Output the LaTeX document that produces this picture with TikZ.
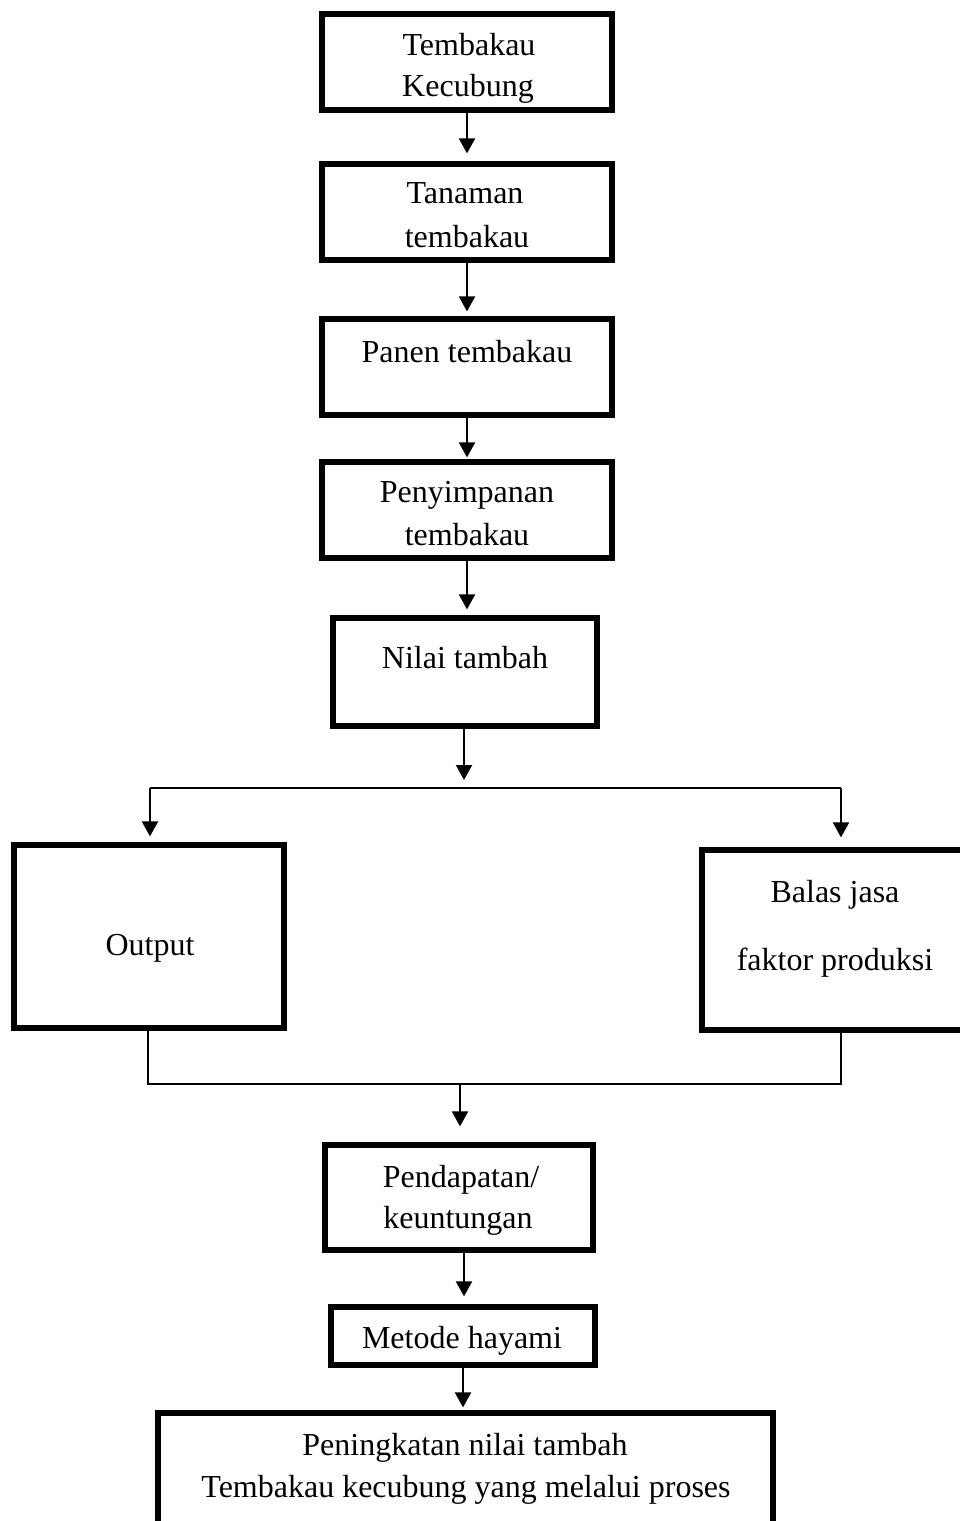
\documentclass[tikz,border=0pt]{standalone}
\usepackage{fontspec}
\setmainfont{Liberation Serif}
\usetikzlibrary{arrows.meta,calc}
\begin{document}
\begin{tikzpicture}[x=0.5pt,y=-0.5pt,
  box/.style={draw, line width=2.6pt, rectangle, inner sep=0pt},
  lbl/.style={anchor=base, inner sep=0pt, font=\fontsize{16pt}{19pt}\selectfont},
  conn/.style={line width=1pt},
  arr/.style={conn, -{Triangle[width=8pt,length=7.5pt]}}]
\useasboundingbox (0,0) rectangle (959,1521);
% boxes
\node[box, minimum width=145pt, minimum height=48pt] (b1) at (467,62) {};
\node[box, minimum width=145pt, minimum height=48pt] (b2) at (467,212) {};
\node[box, minimum width=145pt, minimum height=48pt] (b3) at (467,367) {};
\node[box, minimum width=145pt, minimum height=48pt] (b4) at (467,510) {};
\node[box, minimum width=132pt, minimum height=54pt] (b5) at (465,672) {};
\node[box, minimum width=135pt, minimum height=91.5pt] (out) at (149,936.5) {};
\node[box, minimum width=141.5pt, minimum height=90pt] (bal) at (843.5,940) {};
\node[box, minimum width=134pt, minimum height=52.5pt] (pend) at (459,1197.5) {};
\node[box, minimum width=132pt, minimum height=29pt] (met) at (463,1336) {};
\node[box, minimum width=307.5pt, minimum height=74pt] (fin) at (465.5,1487) {};
% texts
\node[lbl] (t1a) at (469,55) {Tembakau};
\node[lbl] (t1b) at (468,96) {Kecubung};
\node[lbl] (t2a) at (465,203) {Tanaman};
\node[lbl] (t2b) at (467,247) {tembakau};
\node[lbl] (t3) at (467,362) {Panen tembakau};
\node[lbl] (t4a) at (467,502) {Penyimpanan};
\node[lbl] (t4b) at (467,545) {tembakau};
\node[lbl] (t5) at (465,668) {Nilai tambah};
\node[lbl] (t6) at (150,955) {Output};
\node[lbl] (t7a) at (835,902) {Balas jasa};
\node[lbl] (t7b) at (835,970) {faktor produksi};
\node[lbl] (t8a) at (461,1187) {Pendapatan/};
\node[lbl] (t8b) at (458,1228) {keuntungan};
\node[lbl] (t9) at (462,1348) {Metode hayami};
\node[lbl] (t10a) at (465,1455) {Peningkatan nilai tambah};
\node[lbl] (t10b) at (466,1497) {Tembakau kecubung yang melalui proses};
% connectors
\draw[arr, shorten >=4pt] (b1.south) -- (b2.north);
\draw[arr, shorten >=2.5pt] (b2.south) -- (b3.north);
\draw[arr, shorten >=1pt] (b3.south) -- (b4.north);
\draw[arr, shorten >=3pt] (b4.south) -- (b4.south |- b5.north);
\coordinate (split) at (464,788);
\coordinate (sl) at (150,788);
\coordinate (sr) at (841,788);
\draw[arr, shorten >=4pt] (b5.south -| split) -- (split);
\draw[conn] (sl) -- (sr);
\draw[arr, shorten >=3pt] (sl) -- (sl |- out.north);
\draw[arr, shorten >=5pt] (sr) -- (sr |- bal.north);
\coordinate (ml) at (148,1084);
\coordinate (mr) at (841,1084);
\coordinate (mc) at (460,1084);
\draw[conn] (out.south -| ml) -- (ml) -- (mr) -- (mr |- bal.south);
\draw[arr, shorten >=8pt] (mc) -- (mc |- pend.north);
\draw[arr, shorten >=4pt] (pend.south -| 464,0) -- (met.north -| 464,0);
\draw[arr, shorten >=1.5pt] (met.south) -- (met.south |- fin.north);
\end{tikzpicture}
\end{document}
